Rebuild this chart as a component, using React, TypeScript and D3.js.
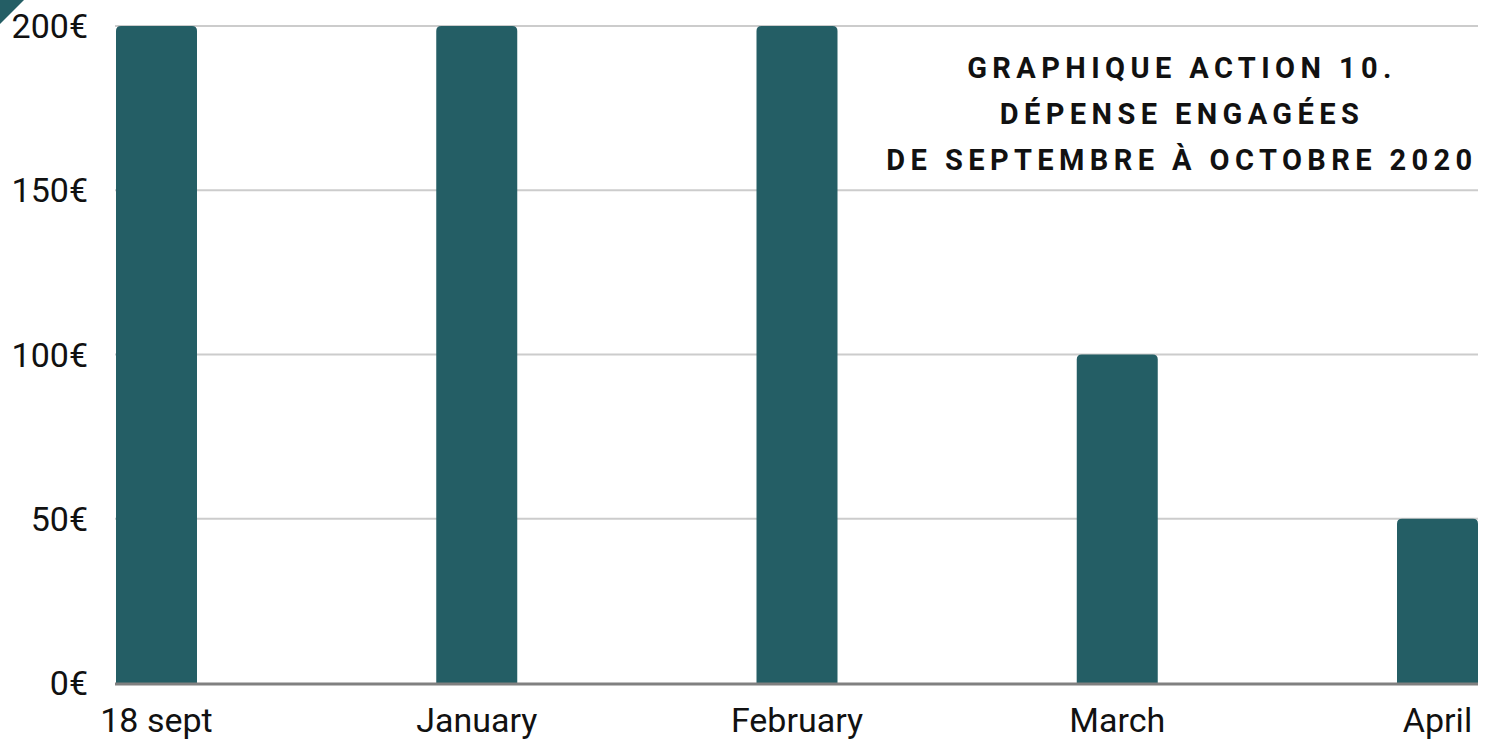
import React from "react";
import * as d3 from "d3";

const categories = ["18 sept", "January", "February", "March", "April"];
const values = [200, 200, 200, 100, 50];
const yTicks = [0, 50, 100, 150, 200];
const titleLines = ["GRAPHIQUE ACTION 10.", "DÉPENSE ENGAGÉES", "DE SEPTEMBRE À OCTOBRE 2020"];

const W = 1496;
const H = 740;
const left = 116;
const right = 1478;
const top = 26;
const bottom = 683;
const barW = 81;
const color = "#245e65";
const font = "Roboto, 'Noto Sans', sans-serif";

export default function App() {
  const x = d3.scalePoint<string>().domain(categories).range([left, right - barW]);
  const y = d3.scaleLinear().domain([0, 200]).range([bottom, top]);
  const r = 5;
  const barPath = (x0: number, y0: number, w: number, h: number) =>
    `M${x0},${y0 + h}V${y0 + r}Q${x0},${y0} ${x0 + r},${y0}H${x0 + w - r}Q${x0 + w},${y0} ${x0 + w},${y0 + r}V${y0 + h}Z`;
  return (
    <svg width={W} height={H} style={{ position: "absolute", left: 0, top: 0, background: "#fff" }}>
      <path d="M0,0H24L0,24Z" fill={color} />
      {yTicks.map((t) => (
        <g key={t}>
          {t !== 0 && (
            <line x1={left - 1} x2={right} y1={y(t)} y2={y(t)} stroke="#cccccc" strokeWidth={2} />
          )}
          <text x={88} y={y(t)} dy="0.36em" textAnchor="end" fontFamily={font} fontSize={34} fill="#111">
            {t}€
          </text>
        </g>
      ))}
      {categories.map((c, i) => (
        <path key={c} d={barPath(x(c)!, y(values[i]), barW, bottom - y(values[i]))} fill={color} />
      ))}
      <line x1={left - 1} x2={right} y1={bottom + 1} y2={bottom + 1} stroke="#808080" strokeWidth={3} />
      {categories.map((c) => (
        <text key={c} x={x(c)! + barW / 2} y={732} textAnchor="middle" fontFamily={font} fontSize={34} fill="#111">
          {c}
        </text>
      ))}
      {titleLines.map((l, i) => (
        <text key={l} x={1182} y={78 + i * 46} textAnchor="middle" fontFamily={font} fontWeight={700} fontSize={29} letterSpacing={5.4} fill="#111">
          {l}
        </text>
      ))}
    </svg>
  );
}
